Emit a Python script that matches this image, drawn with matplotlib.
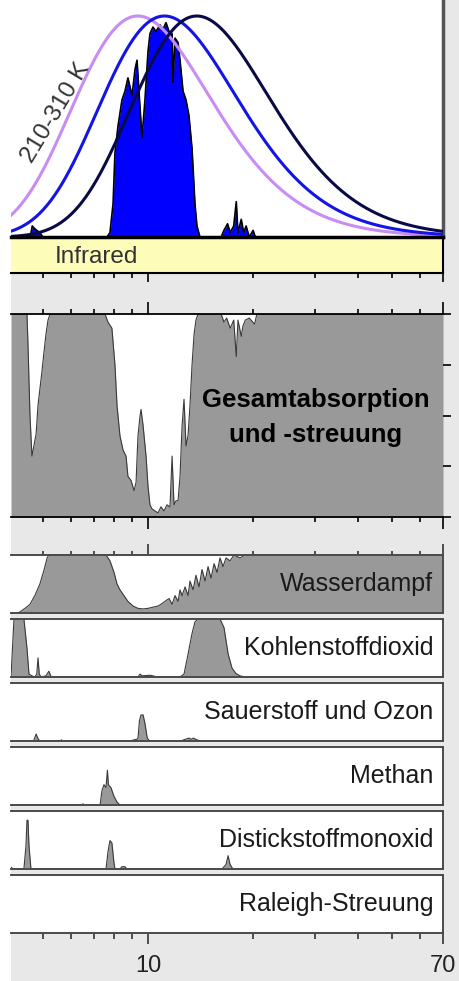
import matplotlib
matplotlib.use("Agg")
import matplotlib.pyplot as plt
import matplotlib.patches as patches
from matplotlib.ticker import FixedLocator, NullFormatter, FixedFormatter
import numpy as np

W, H = 459, 981
plt.rcParams['font.family'] = ['Liberation Sans', 'DejaVu Sans']

BG = '#e8e8e8'
FILL = '#999999'
EDGE = '#3a3a3a'

# wavelength axis (micrometres, log scale)
XMIN, XMAX = 4.05, 70
major_ticks = [10, 70]
minor_ticks = [5, 6, 7, 8, 9, 20, 30, 40, 50, 60]
tick_labels = ["10", "70"]

# blackbody temperatures (K), peak-normalised curves
temps = [310, 260, 210]
temp_colors = ['#c88cf5', '#1414e6', '#0a0a46']

# upgoing thermal radiation reaching space (fraction of blackbody peak)
up_wl = [4.05, 4.60, 4.66, 4.72, 4.80, 4.90, 5.00, 7.63, 7.78, 7.94, 8.04, 8.20, 8.42,
         8.59, 8.76, 9.00, 9.18, 9.30, 9.42, 9.61, 9.80, 10.0, 10.13, 10.33, 10.54,
         10.82, 11.04, 11.26, 11.49, 11.72, 11.79, 11.95, 12.19, 12.35, 12.60, 12.85,
         13.10, 13.37, 13.63, 13.81, 14.09, 16.2, 16.5, 16.9, 17.2, 17.6, 17.9, 18.1,
         18.5, 18.8, 19.1, 19.5, 20.0, 20.3, 70]
up_val = [0, 0, 0.05, 0.04, 0.03, 0.02, 0, 0, 0.02, 0.15, 0.38, 0.50, 0.62,
          0.66, 0.72, 0.64, 0.76, 0.80, 0.66, 0.45, 0.62, 0.84, 0.92, 0.95, 0.93,
          0.96, 0.94, 0.97, 0.93, 0.92, 0.70, 0.90, 0.88, 0.80, 0.66, 0.62,
          0.55, 0.40, 0.15, 0.05, 0, 0, 0.03, 0.06, 0.02, 0.05, 0.16, 0.02,
          0.08, 0.02, 0.05, 0, 0.03, 0, 0]

# total absorption and scattering (fraction)
total_wl = [4.05, 4.50, 4.53, 4.59, 4.65, 4.71, 4.78, 4.84, 4.90, 4.97, 5.04, 5.10,
            5.17, 5.24, 7.53, 7.68, 7.88, 8.04, 8.15, 8.31, 8.48, 8.65, 8.76, 8.94,
            9.12, 9.24, 9.36, 9.49, 9.55, 9.68, 9.87, 10.0, 10.13, 10.27, 10.47,
            10.68, 10.89, 11.11, 11.33, 11.56, 11.72, 11.87, 12.03, 12.19, 12.35,
            12.52, 12.68, 12.85, 13.02, 13.19, 13.37, 13.55, 13.72, 13.91, 16.2,
            16.5, 16.8, 17.2, 17.6, 17.9, 18.1, 18.5, 18.7, 19.0, 19.5, 20.2, 20.5, 70]
total_val = [1.0, 1.0, 0.85, 0.5, 0.30, 0.35, 0.41, 0.55, 0.63, 0.72, 0.82, 0.90,
             0.97, 1.0, 1.0, 0.96, 0.93, 0.75, 0.55, 0.40, 0.33, 0.30, 0.20, 0.18,
             0.13, 0.17, 0.40, 0.50, 0.53, 0.45, 0.30, 0.15, 0.06, 0.04, 0.03,
             0.02, 0.05, 0.03, 0.06, 0.05, 0.30, 0.06, 0.08, 0.08, 0.20,
             0.45, 0.58, 0.35, 0.40, 0.55, 0.75, 0.90, 0.97, 1.0, 1.0,
             0.96, 0.98, 0.93, 0.97, 0.79, 0.97, 0.89, 0.94, 0.97, 0.98, 0.95, 1.0, 1.0]

# individual absorbers
water_wl = [4.05, 4.24, 4.30, 4.44, 4.59, 4.74, 4.90, 5.04, 5.14, 5.20, 7.58, 7.78,
            7.99, 8.15, 8.31, 8.53, 8.76, 9.06, 9.36, 9.68, 10.0, 10.33, 10.68, 10.89,
            11.18, 11.49, 11.72, 11.95, 12.19, 12.35, 12.52, 12.77, 13.02, 13.19,
            13.46, 13.72, 14.0, 14.28, 14.57, 14.86, 15.15, 15.46, 15.77, 16.08,
            16.40, 16.73, 17.18, 17.64, 18.35, 18.96, 70]
water_val = [0, 0, 0.02, 0.08, 0.15, 0.30, 0.50, 0.75, 0.95, 1.0, 1.0, 0.90,
             0.70, 0.50, 0.40, 0.30, 0.20, 0.12, 0.08, 0.07, 0.08, 0.10, 0.12, 0.15,
             0.20, 0.25, 0.15, 0.30, 0.20, 0.40, 0.30, 0.45, 0.30, 0.55,
             0.40, 0.65, 0.45, 0.75, 0.55, 0.80, 0.60, 0.85, 0.70, 0.95,
             0.80, 0.95, 0.90, 1.0, 0.95, 1.0, 1.0]

co2_wl = [4.05, 4.13, 4.41, 4.50, 4.56, 4.65, 4.74, 4.80, 4.84, 4.88, 4.94, 5.10,
          5.20, 5.28, 9.36, 9.49, 9.61, 10.13, 10.33, 10.6, 12.35, 12.68, 12.93,
          13.37, 13.63, 13.91, 16.08, 16.51, 16.96, 17.41, 17.87, 18.35, 18.96, 70]
co2_val = [0, 1.0, 1.0, 0.5, 0.05, 0.02, 0, 0.05, 0.33, 0.05, 0, 0.02,
           0.10, 0, 0, 0.05, 0.02, 0.03, 0.02, 0, 0, 0.05, 0.30,
           0.75, 0.95, 1.0, 1.0, 0.85, 0.40, 0.15, 0.06, 0.02, 0, 0]

o3_wl = [4.05, 4.70, 4.74, 4.78, 4.84, 4.90, 5.60, 5.65, 5.70, 8.9, 9.12, 9.30,
         9.36, 9.45, 9.55, 9.68, 9.80, 9.95, 10.1, 12.4, 12.8, 13.1, 13.3, 13.5,
         13.8, 14.2, 70]
o3_val = [0, 0, 0.06, 0.12, 0.04, 0, 0, 0.02, 0, 0, 0.02, 0.03,
          0.05, 0.35, 0.45, 0.45, 0.30, 0.05, 0, 0, 0.03, 0.05, 0.03, 0.05,
          0.02, 0, 0]

ch4_wl = [4.05, 6.45, 6.51, 6.57, 7.29, 7.38, 7.48, 7.58, 7.65, 7.70, 7.83, 7.99,
          8.15, 8.31, 70]
ch4_val = [0, 0, 0.02, 0, 0, 0.25, 0.35, 0.30, 0.60, 0.35, 0.30, 0.15,
           0.05, 0, 0]

n2o_wl = [4.05, 4.11, 4.41, 4.47, 4.50, 4.53, 4.56, 4.62, 7.58, 7.68, 7.78, 7.88,
          7.99, 8.04, 8.31, 8.42, 8.59, 8.70, 16.3, 16.73, 16.96, 17.18, 17.5, 70]
n2o_val = [0.03, 0, 0, 0.4, 0.84, 0.84, 0.4, 0, 0, 0.3, 0.49, 0.45,
           0.1, 0, 0, 0.04, 0.04, 0, 0, 0.08, 0.23, 0.08, 0, 0]

rayleigh_wl = [4.05, 70]
rayleigh_val = [0, 0]

gas_names = ["Wasserdampf", "Kohlenstoffdioxid", "Sauerstoff und Ozon", "Methan",
             "Distickstoffmonoxid", "Raleigh-Streuung"]
gas_data = [(water_wl, water_val), (co2_wl, co2_val), (o3_wl, o3_val),
            (ch4_wl, ch4_val), (n2o_wl, n2o_val), (rayleigh_wl, rayleigh_val)]


def add_panel(top, bottom, left=11, right=443):
    ax = fig.add_axes([left / W, 1 - bottom / H, (right - left) / W, (bottom - top) / H])
    ax.set_xscale('log')
    ax.set_xlim(XMIN, XMAX)
    ax.xaxis.set_major_locator(FixedLocator(major_ticks))
    ax.xaxis.set_minor_locator(FixedLocator(minor_ticks))
    ax.xaxis.set_major_formatter(NullFormatter())
    ax.xaxis.set_minor_formatter(NullFormatter())
    ax.set_yticks([])
    ax.tick_params(which='both', bottom=False, top=False, labelbottom=False)
    for s in ax.spines.values():
        s.set_visible(False)
    return ax


fig = plt.figure(figsize=(W / 100, H / 100), dpi=100)
fig.patch.set_facecolor(BG)
fig.patches.append(patches.Rectangle((0, 0), 11 / W, 1, transform=fig.transFigure,
                                     facecolor='white', edgecolor='none', zorder=-1))

# blackbody curves and upgoing radiation
ax0 = add_panel(0, 237)
ax0.set_ylim(0, 237 / 221)
ax0.fill_between(up_wl, up_val, color='#0000ff', lw=0, zorder=2)
ax0.plot(up_wl, up_val, color='black', lw=1.2, zorder=3)
lam = np.geomspace(XMIN, XMAX, 600)
xpk = 4.965
for T, c in zip(temps, temp_colors):
    x = 14388.0 / (lam * T)
    b = x ** 5 / np.expm1(x) / (xpk ** 5 / np.expm1(xpk))
    ax0.plot(lam, b, color=c, lw=2.2, zorder=4)
ax0.spines['right'].set_visible(True)
ax0.spines['right'].set_color('#555555')
ax0.spines['right'].set_linewidth(2.5)
fig.text(56 / W, 1 - 113 / H, "210-310 K", rotation=59, ha='center', va='center',
         fontsize=17.5, color='#333333')

# infrared band
axb = add_panel(237, 273)
axb.set_facecolor('#fdfcb9')
for side in ['top', 'bottom', 'right']:
    axb.spines[side].set_visible(True)
    axb.spines[side].set_color('black')
axb.spines['top'].set_linewidth(2.5)
axb.spines['bottom'].set_linewidth(1.5)
axb.spines['right'].set_linewidth(1.5)
axb.tick_params(which='both', bottom=True, direction='out', color='black', width=1.2)
axb.tick_params(which='major', length=6.5)
axb.tick_params(which='minor', length=3.6)
axb.text((55 - 11) / 432, 0.44, "Infrared", ha='left', va='center', fontsize=17.5,
         color='#333333', transform=axb.transAxes)

# total absorption and scattering
axg = add_panel(314, 517)
axg.set_ylim(0, 1)
axg.fill_between(total_wl, total_val, color=FILL, lw=0)
axg.plot(total_wl, total_val, color=EDGE, lw=0.8)
for side in ['top', 'bottom']:
    axg.spines[side].set_visible(True)
    axg.spines[side].set_color('black')
    axg.spines[side].set_linewidth(1.3)
axg.tick_params(which='both', bottom=True, top=True, direction='out', color='black', width=1.2)
axg.tick_params(which='major', length=8.5)
axg.tick_params(which='minor', length=3.5)
axg.yaxis.tick_right()
axg.set_yticks([0, 0.25, 0.5, 0.75, 1.0])
axg.set_yticklabels([])
axg.tick_params(axis='y', which='major', right=True, length=6, direction='out', width=1.2)
axg.text((316 - 11) / 432, (517 - 407) / 203, "Gesamtabsorption", ha='center',
         va='baseline', fontsize=18.5, fontweight='bold', color='black',
         transform=axg.transAxes)
axg.text((316 - 11) / 432, (517 - 442) / 203, "und -streuung", ha='center',
         va='baseline', fontsize=18.5, fontweight='bold', color='black',
         transform=axg.transAxes)

# individual absorbers
tops = [555, 619, 683, 747, 811, 875]
for i, (name, (wl, val)) in enumerate(zip(gas_names, gas_data)):
    ax = add_panel(tops[i], tops[i] + 58)
    ax.set_ylim(0, 1)
    ax.fill_between(wl, val, color=FILL, lw=0)
    ax.plot(wl, val, color=EDGE, lw=0.8)
    for side in ['top', 'bottom', 'right']:
        ax.spines[side].set_visible(True)
        ax.spines[side].set_color('#4a4a4a')
        ax.spines[side].set_linewidth(1.4)
    ax.text(0.977, 0.5, name, ha='right', va='center', fontsize=18,
            color='#1a1a1a', transform=ax.transAxes)
    if i == 0:
        ax.tick_params(which='both', top=True, direction='out', color='#333333', width=1.2)
        ax.tick_params(which='major', length=8)
        ax.tick_params(which='minor', length=3)
    if i == len(gas_names) - 1:
        ax.tick_params(which='both', bottom=True, direction='out', color='#333333', width=1.2)
        ax.tick_params(which='major', length=8, pad=8, labelbottom=True, labelsize=17,
                       labelcolor='#222222')
        ax.tick_params(which='minor', length=4.3)
        ax.xaxis.set_major_formatter(FixedFormatter(tick_labels))

fig.savefig("out.png", dpi=100, facecolor=fig.get_facecolor())
